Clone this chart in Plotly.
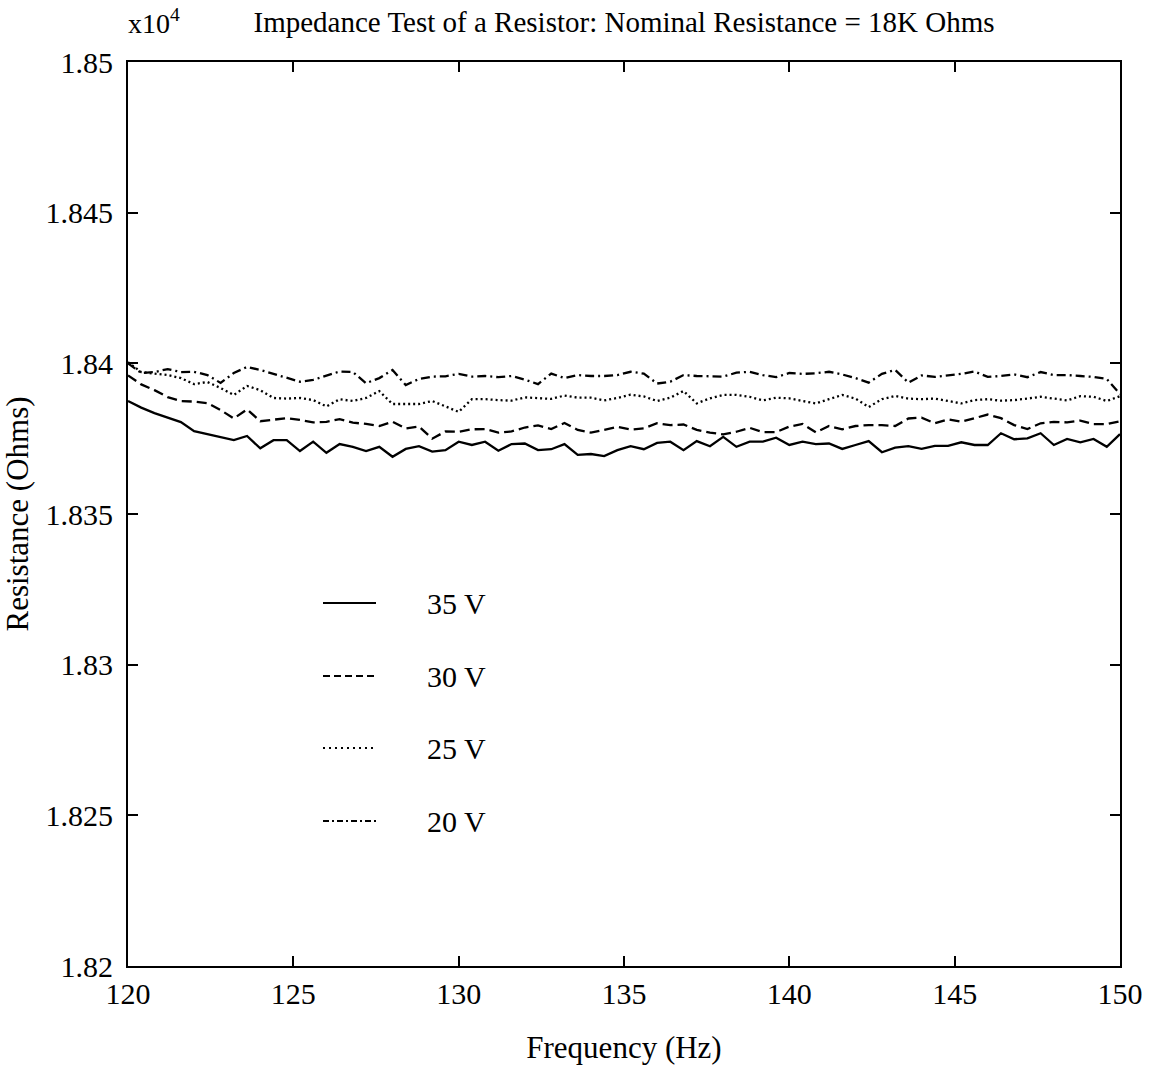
import plotly.graph_objects as go

# Frequency grid (Hz)
freq = [round(120 + 0.4 * i, 1) for i in range(76)]

# Resistance readings (Ohms)
r35 = [18387.5, 18385.3, 18383.5, 18382.0, 18380.5, 18377.5, 18376.5, 18375.5, 18374.5, 18375.9,
       18371.8, 18374.5, 18374.5, 18370.9, 18374.0, 18370.3, 18373.2, 18372.3, 18370.9, 18372.3,
       18369.0, 18371.6, 18372.5, 18370.7, 18371.2, 18374.0, 18372.9, 18374.0, 18371.0, 18373.2,
       18373.4, 18371.2, 18371.5, 18373.2, 18369.6, 18369.9, 18369.2, 18371.2, 18372.5, 18371.5,
       18373.6, 18374.0, 18371.2, 18374.2, 18372.5, 18375.6, 18372.3, 18374.0, 18374.0, 18375.3,
       18372.9, 18374.0, 18373.2, 18373.4, 18371.6, 18372.9, 18374.2, 18370.5, 18372.0, 18372.5,
       18371.6, 18372.6, 18372.6, 18373.8, 18372.9, 18372.9, 18376.8, 18374.8, 18375.1, 18376.8,
       18372.9, 18374.9, 18373.8, 18374.9, 18372.3, 18376.5]
r30 = [18396.0, 18393.0, 18391.1, 18388.8, 18387.5, 18387.3, 18386.8, 18384.5, 18381.7, 18384.7,
       18380.8, 18381.4, 18381.8, 18381.2, 18380.4, 18380.6, 18381.5, 18380.3, 18379.9, 18379.2,
       18380.6, 18378.4, 18379.0, 18375.0, 18377.4, 18377.3, 18378.1, 18378.2, 18377.0, 18377.4,
       18378.7, 18379.4, 18378.2, 18380.2, 18377.9, 18377.0, 18378.0, 18378.9, 18378.0, 18378.4,
       18380.1, 18379.5, 18379.7, 18377.9, 18377.0, 18376.4, 18377.3, 18378.6, 18377.2, 18377.2,
       18379.0, 18379.9, 18377.1, 18379.2, 18378.1, 18379.2, 18379.5, 18379.5, 18379.2, 18381.7,
       18382.0, 18380.1, 18381.4, 18380.6, 18381.8, 18383.0, 18381.8, 18379.5, 18378.2, 18380.1,
       18380.6, 18380.4, 18381.0, 18379.8, 18379.8, 18380.8]
r25 = [18400.4, 18397.1, 18396.6, 18396.1, 18395.1, 18393.1, 18393.8, 18391.8, 18389.5, 18392.5,
       18391.1, 18388.5, 18388.3, 18388.5, 18387.8, 18385.7, 18388.1, 18387.5, 18388.5, 18390.8,
       18386.5, 18386.4, 18386.5, 18387.5, 18385.6, 18383.9, 18388.1, 18388.1, 18387.8, 18387.6,
       18388.7, 18388.4, 18388.2, 18389.3, 18388.6, 18388.6, 18387.7, 18388.5, 18389.6, 18389.0,
       18387.5, 18388.6, 18390.8, 18386.7, 18388.4, 18389.5, 18389.5, 18388.9, 18387.7, 18388.6,
       18388.4, 18387.5, 18386.7, 18388.1, 18389.5, 18388.3, 18385.5, 18388.1, 18389.2, 18388.3,
       18388.1, 18388.3, 18387.5, 18386.7, 18387.8, 18388.1, 18387.6, 18387.8, 18388.3, 18388.9,
       18388.3, 18387.7, 18389.1, 18388.9, 18387.5, 18389.1]
r20 = [18400.0, 18396.8, 18397.1, 18398.1, 18397.1, 18397.2, 18396.1, 18393.5, 18396.8, 18398.8,
       18397.8, 18396.5, 18395.1, 18393.9, 18394.5, 18395.8, 18397.3, 18397.1, 18393.4, 18395.1,
       18397.8, 18392.8, 18394.8, 18395.6, 18395.7, 18396.5, 18395.6, 18395.8, 18395.4, 18395.8,
       18394.6, 18393.1, 18396.6, 18395.1, 18396.1, 18395.8, 18395.8, 18396.1, 18397.2, 18396.6,
       18393.3, 18393.9, 18396.1, 18395.8, 18395.8, 18395.6, 18396.9, 18397.2, 18396.1, 18395.4,
       18396.8, 18396.5, 18396.7, 18397.2, 18396.3, 18395.1, 18393.6, 18396.5, 18397.8, 18393.6,
       18396.0, 18395.5, 18396.0, 18396.5, 18397.3, 18395.5, 18395.8, 18396.3, 18395.4, 18397.1,
       18396.1, 18396.1, 18395.8, 18395.5, 18394.8, 18389.8]

series_names = ["35 V", "30 V", "25 V", "20 V"]
series_vals = [r35, r30, r25, r20]
plot_dash = ["solid", "10px,5px", "2px,3px", "9px,4px,2px,4px"]
legend_dash = ["solid", "7px,4px", "2px,4px", "6px,3px,2px,3px"]

x_ticks = [120, 125, 130, 135, 140, 145, 150]
y_ticks = [18200, 18250, 18300, 18350, 18400, 18450, 18500]
y_ticktext = ["1.82", "1.825", "1.83", "1.835", "1.84", "1.845", "1.85"]

FONT = "Liberation Serif"
fig = go.Figure()
for name, vals, dash in zip(series_names, series_vals, plot_dash):
    fig.add_trace(go.Scatter(x=freq, y=vals, mode="lines", name=name,
                             line=dict(color="black", width=2.3, dash=dash),
                             showlegend=False))

# Hand-drawn style legend inside plot
W, H = 1156, 1092
L, R, T, B = 128, 36, 62, 126
pw, ph = W - L - R, H - T - B
leg_y = [603, 676, 748, 821]
for name, dash, py in zip(series_names, legend_dash, leg_y):
    yp = (H - B - py) / ph
    fig.add_shape(type="line", xref="paper", yref="paper",
                  x0=(323 - L) / pw, x1=(376 - L) / pw, y0=yp, y1=yp,
                  line=dict(color="black", width=2, dash=dash))
    fig.add_annotation(xref="paper", yref="paper", x=(425 - L) / pw, y=yp,
                       xanchor="left", yanchor="middle", text=name, showarrow=False,
                       font=dict(family=FONT, size=30, color="black"))

fig.add_annotation(xref="paper", yref="paper", x=-0.002, y=(H - B - 22) / ph,
                   xanchor="left", yanchor="middle", text="x10<sup>4</sup>", showarrow=False,
                   font=dict(family=FONT, size=28, color="black"))

fig.update_layout(
    width=W, height=H,
    margin=dict(l=L, r=R, t=T, b=B, autoexpand=False),
    paper_bgcolor="white", plot_bgcolor="white",
    title=dict(text="Impedance Test of a Resistor: Nominal Resistance = 18K Ohms",
               x=(L + pw / 2) / W, xanchor="center", y=1 - 22 / H, yanchor="middle",
               font=dict(family=FONT, size=29, color="black")),
    font=dict(family=FONT, size=30, color="black"),
)
fig.update_xaxes(range=[120, 150], tickvals=x_ticks, ticks="inside", ticklen=10,
                 tickwidth=1.5, tickcolor="black", showline=True, linecolor="black",
                 linewidth=2, mirror="ticks", showgrid=False, zeroline=False,
                 automargin=False, ticklabelstandoff=0,
                 title=dict(text="Frequency (Hz)", standoff=27,
                            font=dict(family=FONT, size=31)))
fig.update_yaxes(range=[18200, 18500], tickvals=y_ticks, ticktext=y_ticktext,
                 ticks="inside", ticklen=10, tickwidth=1.5, tickcolor="black",
                 showline=True, linecolor="black", linewidth=2, mirror="ticks",
                 showgrid=False, zeroline=False, automargin=False, ticklabelstandoff=7,
                 title=dict(text="Resistance (Ohms)", standoff=8,
                            font=dict(family=FONT, size=31)))

fig.write_html("out.html")
